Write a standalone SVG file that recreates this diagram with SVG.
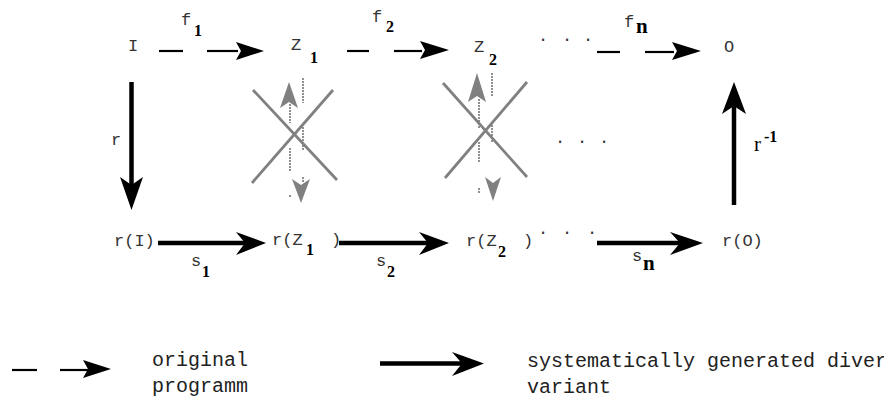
<svg xmlns="http://www.w3.org/2000/svg" width="884" height="398" viewBox="0 0 884 398">
<style>
.mono{font-family:"Liberation Mono","Courier New",monospace;fill:#333;font-size:17px}
.leg{font-family:"Liberation Mono","Courier New",monospace;fill:#222;font-size:20px}
.sub{font-family:"Liberation Serif","Times New Roman",serif;font-weight:bold;fill:#000;font-size:16px}
.subn{font-family:"Liberation Serif","Times New Roman",serif;font-weight:bold;fill:#000;font-size:21px}
.ser{font-family:"Liberation Serif","Times New Roman",serif;fill:#000;font-size:21px}
.dash{stroke:#000;stroke-width:2.2;fill:none}
.thick{stroke:#000;stroke-width:4.5;fill:none}
.head{fill:#000;stroke:none}
.gx{stroke:#808080;stroke-width:2.8;fill:none}
.ghead{fill:#808080;stroke:none}
.gd{stroke:#555;stroke-width:1.3;stroke-dasharray:2 1;fill:none}
</style>
<rect width="884" height="398" fill="#fff"/>

<g id="connectors">
  <g id="f1">
    <line class="dash" x1="159" y1="51" x2="183" y2="51"/>
    <line class="dash" x1="207" y1="51" x2="238" y2="51"/>
    <path class="head" d="M264,51 L236,42 L241,51 L236,60 Z"/>
    <text class="mono" x="181" y="25">f</text>
    <text class="sub" x="194" y="36">1</text>
  </g>
  <g id="f2">
    <line class="dash" x1="347" y1="51" x2="369" y2="51"/>
    <line class="dash" x1="394" y1="51" x2="422" y2="51"/>
    <path class="head" d="M449,50 L420,41 L425,50 L420,59 Z"/>
    <text class="mono" x="372" y="22">f</text>
    <text class="sub" x="386" y="32">2</text>
  </g>
  <g id="fn">
    <line class="dash" x1="597" y1="52" x2="620" y2="52"/>
    <line class="dash" x1="645" y1="52" x2="674" y2="52"/>
    <path class="head" d="M701,51 L672,42 L677,51 L672,60 Z"/>
    <text class="mono" x="624" y="27">f</text>
    <text class="subn" x="636" y="33">n</text>
  </g>
  <g id="r">
    <line class="thick" x1="131.5" y1="82" x2="131.5" y2="190"/>
    <path class="head" d="M131.5,210 L120,177 L131.5,185 L143,177 Z"/>
    <text class="mono" x="111" y="145">r</text>
  </g>
  <g id="rinv">
    <line class="thick" x1="734" y1="205" x2="734" y2="105"/>
    <path class="head" d="M734,82 L722,114 L734,106 L746,114 Z"/>
    <text class="ser" x="754" y="151">r</text>
    <text class="sub" x="764" y="142">-1</text>
  </g>
  <g id="s1">
    <line class="thick" x1="158" y1="243" x2="246" y2="243"/>
    <path class="head" d="M266,243 L236,232 L245,243 L236,255 Z"/>
    <text class="mono" x="191" y="266">s</text>
    <text class="sub" x="202" y="277">1</text>
  </g>
  <g id="s2">
    <line class="thick" x1="339" y1="243" x2="430" y2="243"/>
    <path class="head" d="M449,243 L419,232 L428,243 L419,255 Z"/>
    <text class="mono" x="376" y="266">s</text>
    <text class="sub" x="387" y="277">2</text>
  </g>
  <g id="sn">
    <line class="thick" x1="597" y1="243" x2="682" y2="243"/>
    <path class="head" d="M703,243 L670,232 L680,243 L670,255 Z"/>
    <text class="mono" x="632" y="261">s</text>
    <text class="subn" x="643" y="270">n</text>
  </g>
  <g id="cross1">
    <line class="gd" x1="290" y1="104" x2="290" y2="123"/>
    <line class="gd" x1="290" y1="148" x2="290" y2="172"/>
    <line class="gd" x1="290" y1="195" x2="290" y2="198"/>
    <line class="gd" x1="303" y1="78" x2="303" y2="103"/>
    <line class="gd" x1="303" y1="127" x2="303" y2="150"/>
    <line class="gd" x1="303" y1="177" x2="303" y2="183"/>
    <path class="ghead" d="M289,82 L280,108 L289,102 L298,108 Z"/>
    <path class="ghead" d="M301,203 L292,179 L301,185 L310,179 Z"/>
    <line class="gx" x1="253" y1="90" x2="337" y2="180"/>
    <line class="gx" x1="252" y1="183" x2="333" y2="90"/>
  </g>
  <g id="cross2">
    <line class="gd" x1="479" y1="99" x2="479" y2="128"/>
    <line class="gd" x1="479" y1="142" x2="479" y2="163"/>
    <line class="gd" x1="479" y1="188" x2="479" y2="193"/>
    <line class="gd" x1="492" y1="73" x2="492" y2="97"/>
    <line class="gd" x1="492" y1="125" x2="492" y2="143"/>
    <path class="ghead" d="M477,73 L468,102 L477,96 L486,102 Z"/>
    <path class="ghead" d="M493,201 L485,177 L493,183 L501,177 Z"/>
    <line class="gx" x1="443" y1="83" x2="527" y2="177"/>
    <line class="gx" x1="445" y1="178" x2="527" y2="82"/>
  </g>
  <text class="mono" x="538 562 583" y="41">...</text>
  <text class="mono" x="555 577 599" y="143">...</text>
  <text class="mono" x="538 562 587" y="234">...</text>
</g>

<g id="node-I"><text class="mono" x="128" y="51">I</text></g>
<g id="node-Z1"><text class="mono" x="291" y="50">Z</text><text class="sub" x="310" y="63">1</text></g>
<g id="node-Z2"><text class="mono" x="474" y="52">Z</text><text class="sub" x="489" y="65">2</text></g>
<g id="node-O"><text class="mono" x="724" y="52">O</text></g>
<g id="node-rI"><text class="mono" x="114" y="246">r(I)</text></g>
<g id="node-rZ1"><text class="mono" x="272" y="245">r(Z</text><text class="sub" x="306" y="255">1</text><text class="mono" x="331" y="245">)</text></g>
<g id="node-rZ2"><text class="mono" x="466" y="246">r(Z</text><text class="sub" x="498" y="257">2</text><text class="mono" x="523" y="246">)</text></g>
<g id="node-rO"><text class="mono" x="722" y="246">r(O)</text></g>

<g id="legend">
  <line class="dash" x1="12" y1="370" x2="37" y2="370"/>
  <line class="dash" x1="60" y1="370" x2="88" y2="370"/>
  <path class="head" d="M111,369 L83,360 L88,369 L83,378 Z"/>
  <text class="leg" x="152" y="366">original</text>
  <text class="leg" x="152" y="392">programm</text>
  <line class="thick" x1="380" y1="363.5" x2="465" y2="363.5"/>
  <path class="head" d="M484,363.5 L452,352 L462,363.5 L452,376 Z"/>
  <text class="leg" x="527" y="367">systematically generated diverse</text>
  <text class="leg" x="527" y="393">variant</text>
</g>
</svg>
